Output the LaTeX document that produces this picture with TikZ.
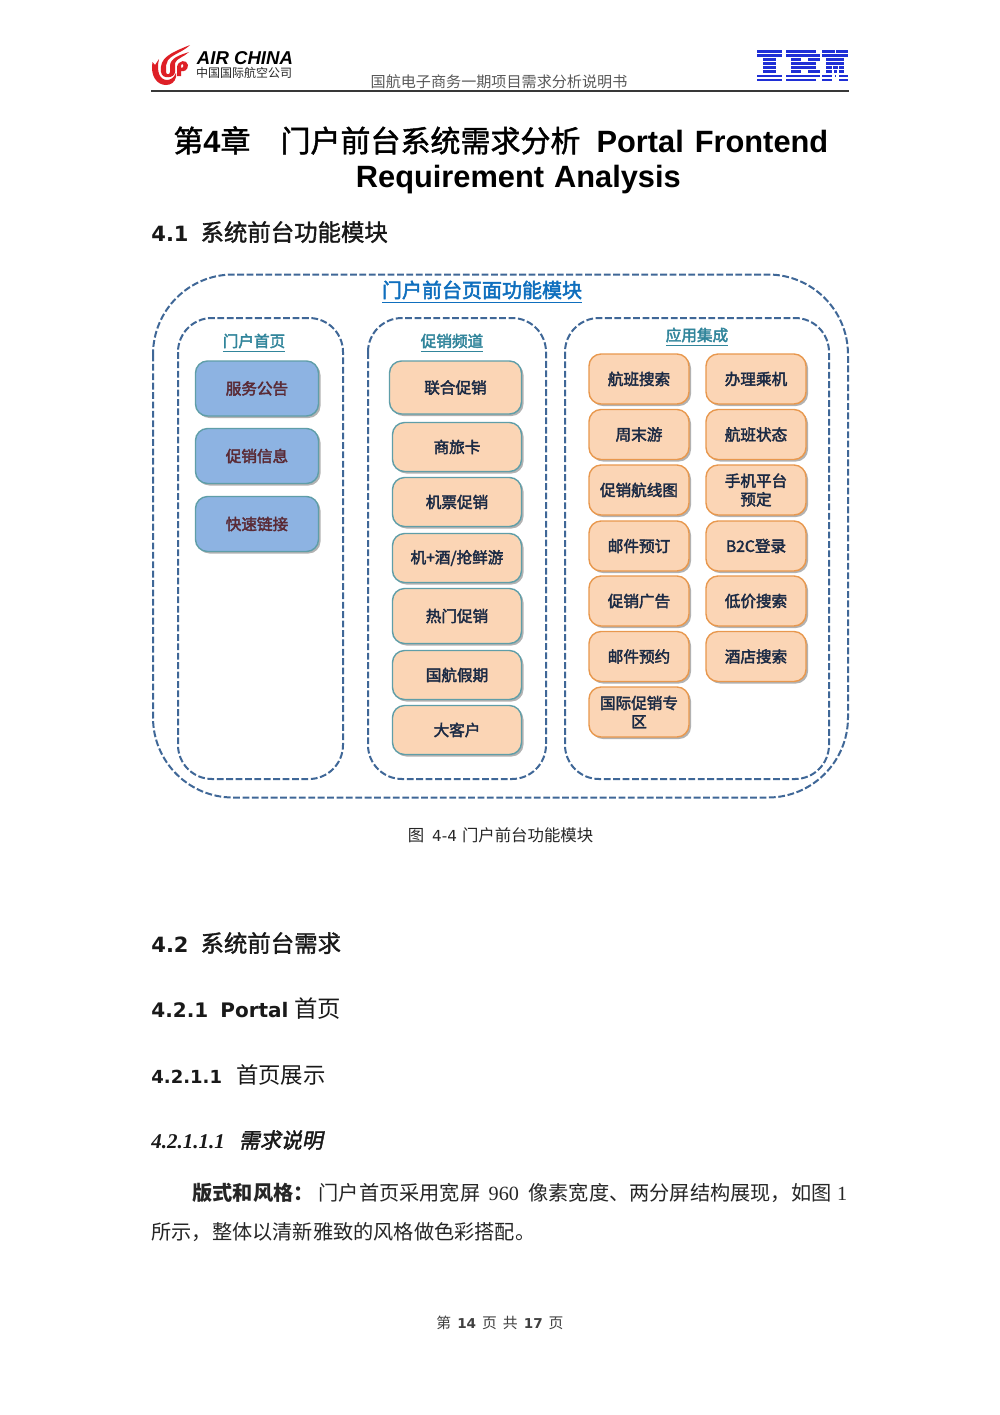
\documentclass[tikz,border=0pt]{standalone}
\usepackage{fontspec}
\setmainfont{Liberation Sans}
\newfontfamily\cjk{Noto Sans CJK SC}
\newfontfamily\cjkm[FakeBold=1.5]{Noto Sans CJK SC}
\newfontfamily\cjks[FakeBold=2.5]{Noto Sans CJK SC}
\newfontfamily\cjki[FakeSlant=0.2,FakeBold=2]{Noto Sans CJK SC}
\newfontfamily\dvs{DejaVu Sans}
\newfontfamily\lser{Liberation Serif}
\usetikzlibrary{shadows}
\definecolor{dashblue}{HTML}{3F6797}
\definecolor{peach}{HTML}{FBD5B5}
\definecolor{bluebox}{HTML}{8DB3E2}
\definecolor{tealedge}{HTML}{5F9EA8}
\definecolor{orangeedge}{HTML}{E8984E}
\definecolor{titleblue}{HTML}{0F6FBE}
\definecolor{subteal}{HTML}{31859B}
\definecolor{logored}{HTML}{DE1F26}
\definecolor{ibmblue}{HTML}{1F2FD6}
\definecolor{navytext}{HTML}{1B2A44}
\definecolor{maroontext}{HTML}{5A2A35}
\tikzset{
 outerframe/.style={draw=dashblue,line width=1pt,dash pattern=on 3.4pt off 1.3pt,rounded corners=40pt},
 innerframe/.style={draw=dashblue,line width=1pt,dash pattern=on 3.4pt off 1.3pt,rounded corners=17pt},
 boxbase/.style={rounded corners=6pt,line width=0.7pt,align=center,inner sep=0pt,
   drop shadow={shadow xshift=1pt,shadow yshift=-1pt,fill=black,opacity=0.3},
   font=\cjks\fontsize{7.8}{9.3}\selectfont},
 bluenode/.style={boxbase,fill=bluebox,draw=tealedge,text=maroontext,minimum width=61.5pt,minimum height=27.5pt},
 tealnode/.style={boxbase,fill=peach,draw=tealedge,text=navytext,minimum width=64.5pt},
 orangenode/.style={boxbase,fill=peach,draw=orangeedge,text=navytext,minimum width=50pt,minimum height=25pt},
 heading/.style={inner sep=0pt,anchor=base west,text=black!90},
 grouptitle/.style={inner sep=0.2pt,text=subteal,font=\cjks\fontsize{7.8}{9}\selectfont},
}
\begin{document}
\begin{tikzpicture}[x=0.5pt,y=-0.5pt]
\useasboundingbox[fill=white] (0,0) rectangle (1000,1415);
% header
\fill[black!78] (151,90.4) rectangle (849,92);
\node[inner sep=0pt,text=black!65] (doc) at (499,81.5) {\cjk\fontsize{7.55}{8}\selectfont 国航电子商务一期项目需求分析说明书};
% Air China logo
\begin{scope}[fill=logored]
\fill (152.5,62) .. controls (150,76) and (157,85) .. (166,85) .. controls (171,85) and (175,82) .. (176,77) -- (176,73) .. controls (174,78) and (170,80) .. (167,80) .. controls (160,80) and (156,72) .. (159,59) -- (155,65) -- cycle;
\fill (161,72) .. controls (159,58) and (170,53) .. (190,45) .. controls (183,52) and (173,54) .. (168,60) .. controls (166,63) and (166,66) .. (166,72) .. controls (166,75) and (170,75) .. (170,72) -- (170,66) .. controls (170,58) and (180,55) .. (189,52) .. controls (184,57) and (177,58) .. (175,63) -- (175,72) .. controls (175,78) and (162,80) .. (161,72) -- cycle;
\fill (177,76) -- (177,67) .. controls (178,60) and (187,59) .. (188,65) .. controls (188,70) and (184,72) .. (181,71) -- (181,68) .. controls (184,68) and (184,64) .. (182,64) .. controls (181,64) and (181,66) .. (181,68) -- (181,76) -- cycle;
\end{scope}
\node[inner sep=0pt] (airchina) at (245,58) {\fontsize{9.3}{10}\selectfont\bfseries\itshape AIR CHINA};
\node[inner sep=0pt,text=black!85] (airchinacn) at (244,73) {\cjk\fontsize{6}{7}\selectfont 中国国际航空公司};
% IBM logo: eight stripes, each row a list of bars
\foreach \r/\segs in {
 0/{757/782,786/816,822/835,836/848},
 1/{757/782,786/820,822/836,836/848},
 2/{763/776,791/801,808/820,826/844},
 3/{763/776,791/816,826/844},
 4/{763/776,791/816,826/832,833/838,839/844},
 5/{763/776,791/801,808/820,826/832,834/837,839/844},
 6/{757/782,786/820,822/832,835/836,839/848},
 7/{757/782,786/816,822/832,839/848}}{
  \foreach \a/\b in \segs
    \fill[ibmblue] (\a,50.2+\r*4.05) rectangle (\b,50.2+\r*4.05+2.9);
}
% title
\node[heading,text=black] (t1) at (173,152) {\fontsize{15.4}{18}\selectfont\bfseries{\cjkm\mdseries\fontsize{15}{18}\selectfont 第}4{\cjkm\mdseries\fontsize{15}{18}\selectfont 章\hspace{15pt}门户前台系统需求分析}\hspace{8pt}Portal\hspace{5.5pt}Frontend};
\node[heading,text=black] (t2) at (355.5,187) {\bfseries\fontsize{15.4}{18}\selectfont Requirement\hspace{5pt}Analysis};
% headings
\node[heading] (h41) at (151,241) {\dvs\bfseries\fontsize{10.5}{14}\selectfont 4.1\hspace{6pt}{\cjkm\mdseries\fontsize{11.7}{14}\selectfont 系统前台功能模块}};
% frames
\draw[outerframe] (153,274.5) rectangle (848,797.5);
\draw[innerframe] (178,318) rectangle (343,779);
\draw[innerframe] (368,318) rectangle (546,779);
\draw[innerframe] (565,318) rectangle (829,779);
\node[inner sep=0.2pt,text=titleblue,font=\cjks\fontsize{10}{11}\selectfont] (gt) at (482,292) {\underline{门户前台页面功能模块}};
\node[grouptitle] (g1) at (254,343) {\underline{门户首页}};
\node[grouptitle] (g2) at (452,343) {\underline{促销频道}};
\node[grouptitle] (g3) at (697,337) {\underline{应用集成}};
% blue
\node[bluenode] (b1) at (257,388.5) {服务公告};
\node[bluenode] (b2) at (257,456) {促销信息};
\node[bluenode] (b3) at (257,524) {快速链接};
% promo
\node[tealnode,minimum width=66pt,minimum height=26.5pt] (p1) at (455.5,387.5) {联合促销};
\node[tealnode,minimum height=24.5pt] (p2) at (457,447) {商旅卡};
\node[tealnode,minimum height=24.5pt] (p3) at (457,502) {机票促销};
\node[tealnode,minimum height=24.5pt] (p4) at (457,558) {机+酒/抢鲜游};
\node[tealnode,minimum height=27.5pt] (p5) at (457,616) {热门促销};
\node[tealnode,minimum height=24.5pt] (p6) at (457,675) {国航假期};
\node[tealnode,minimum height=24.5pt] (p7) at (457,730) {大客户};
% apps left
\node[orangenode] (a1) at (639,379) {航班搜索};
\node[orangenode] (a2) at (639,434.5) {周末游};
\node[orangenode] (a3) at (639,490) {促销航线图};
\node[orangenode] (a4) at (639,546) {邮件预订};
\node[orangenode] (a5) at (639,601) {促销广告};
\node[orangenode] (a6) at (639,656.5) {邮件预约};
\node[orangenode] (a7) at (639,712) {国际促销专\\区};
% apps right
\node[orangenode] (c1) at (756,379) {办理乘机};
\node[orangenode] (c2) at (756,434.5) {航班状态};
\node[orangenode] (c3) at (756,490) {手机平台\\预定};
\node[orangenode] (c4) at (756,546) {B2C登录};
\node[orangenode] (c5) at (756,601) {低价搜索};
\node[orangenode] (c6) at (756,656.5) {酒店搜索};
% caption
\node[inner sep=0pt,text=black!85] (cap) at (500.5,835) {\cjk\fontsize{8.2}{10}\selectfont 图\hspace{4pt}{\dvs\fontsize{7.6}{10}\selectfont 4-4}\hspace{2.5pt}门户前台功能模块};
% sections
\node[heading] (h42) at (151,952) {\dvs\bfseries\fontsize{10.5}{14}\selectfont 4.2\hspace{6pt}{\cjkm\mdseries\fontsize{11.7}{14}\selectfont 系统前台需求}};
\node[heading] (h421) at (151,1017) {\dvs\bfseries\fontsize{10}{14}\selectfont 4.2.1\hspace{6pt}Portal\hspace{3pt}{\cjk\mdseries\fontsize{11.7}{14}\selectfont 首页}};
\node[heading] (h4211) at (151,1083) {\dvs\bfseries\fontsize{9}{13}\selectfont 4.2.1.1\hspace{7pt}{\cjk\mdseries\fontsize{11.2}{13}\selectfont 首页展示}};
\node[heading] (h42111) at (151,1148) {\lser\bfseries\itshape\fontsize{10.5}{13}\selectfont 4.2.1.1.1\hspace{7pt}{\cjki\mdseries\upshape\fontsize{10.5}{13}\selectfont 需求说明}};
% body
\node[heading,text=black!85] (body1) at (192,1200) {\cjk\fontsize{10.1}{12}\selectfont{\bfseries 版式和风格：}\hspace{2.5pt}门户首页采用宽屏\hspace{2pt} {\lser 960}\hspace{2.5pt} 像素宽度、两分屏结构展现，如图\hspace{0.5pt} {\lser 1}};
\node[heading,text=black!85] (body2) at (151,1239) {\cjk\fontsize{10.1}{12}\selectfont 所示，整体以清新雅致的风格做色彩搭配。};
% footer
\node[inner sep=0pt,text=black!75] (foot) at (500,1322.5) {\cjk\fontsize{7.4}{9}\selectfont 第\hspace{3pt}{\dvs\bfseries\fontsize{6.8}{9}\selectfont 14}\hspace{3pt}页\hspace{3pt}共\hspace{3pt}{\dvs\bfseries\fontsize{6.8}{9}\selectfont 17}\hspace{3pt}页};
\end{tikzpicture}
\end{document}
